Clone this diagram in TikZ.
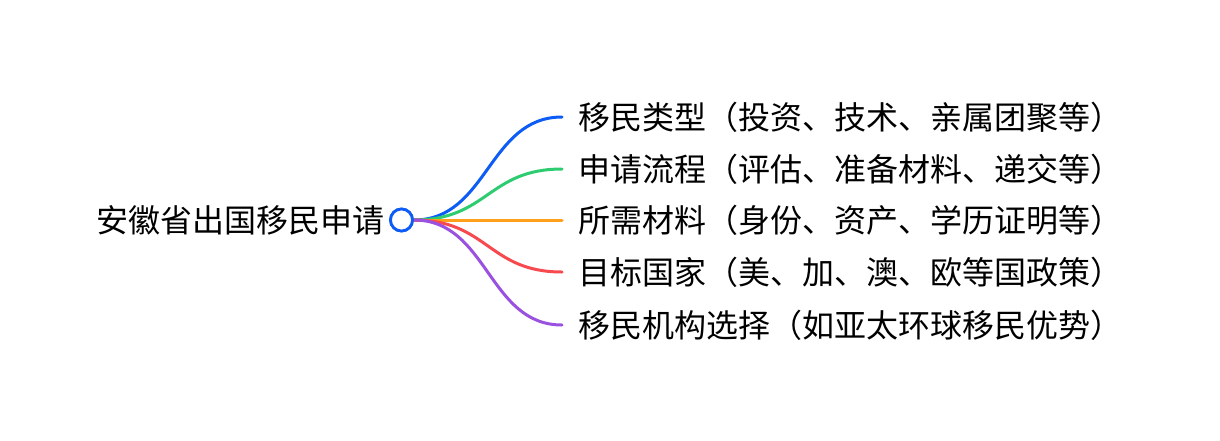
\documentclass[tikz,border=0pt]{standalone}
\usepackage{fontspec}
\setmainfont{Noto Sans CJK SC}
\newfontfamily\cjk{Noto Sans CJK SC}
\definecolor{cblue}{HTML}{0D5CF5}
\definecolor{cgreen}{HTML}{2ECC71}
\definecolor{corange}{HTML}{FF9F1A}
\definecolor{cred}{HTML}{F74A4F}
\definecolor{cpurple}{HTML}{9B51E0}
\begin{document}
\begin{tikzpicture}[x=1pt,y=-1pt,
  lbl/.style={inner sep=0pt, font=\cjk\fontsize{32}{38}\selectfont, text=black},
  link/.style={line width=3pt, line cap=round},
  rootdot/.style={circle, draw=cblue, line width=2.8pt, fill=white, minimum size=22pt, inner sep=0pt}]
\useasboundingbox (0,0) rectangle (1220,440);
\node[lbl, anchor=east] (rootlbl) at (385,220) {安徽省出国移民申请};
\coordinate (e1) at (562,117);
\coordinate (e2) at (562,169);
\coordinate (e3) at (562,220);
\coordinate (e4) at (562,272);
\coordinate (e5) at (562,325);
\node[lbl, anchor=west] (c1) at (578,117) {移民类型（投资、技术、亲属团聚等）};
\node[lbl, anchor=west] (c2) at (578,169) {申请流程（评估、准备材料、递交等）};
\node[lbl, anchor=west] (c3) at (578,220) {所需材料（身份、资产、学历证明等）};
\node[lbl, anchor=west] (c4) at (578,272) {目标国家（美、加、澳、欧等国政策）};
\node[lbl, anchor=west] (c5) at (578,325) {移民机构选择（如亚太环球移民优势）};
\node[rootdot] (root) at (401.5,220) {};
\draw[link, cblue] (root.east) .. controls (488,220) and (488,117) .. (e1);
\draw[link, cgreen] (root.east) .. controls (488,220) and (488,169) .. (e2);
\draw[link, corange] (root.east) -- (e3);
\draw[link, cred] (root.east) .. controls (488,220) and (488,272) .. (e4);
\draw[link, cpurple] (root.east) .. controls (488,220) and (488,325) .. (e5);
\node[rootdot] at (root) {};
\end{tikzpicture}
\end{document}
